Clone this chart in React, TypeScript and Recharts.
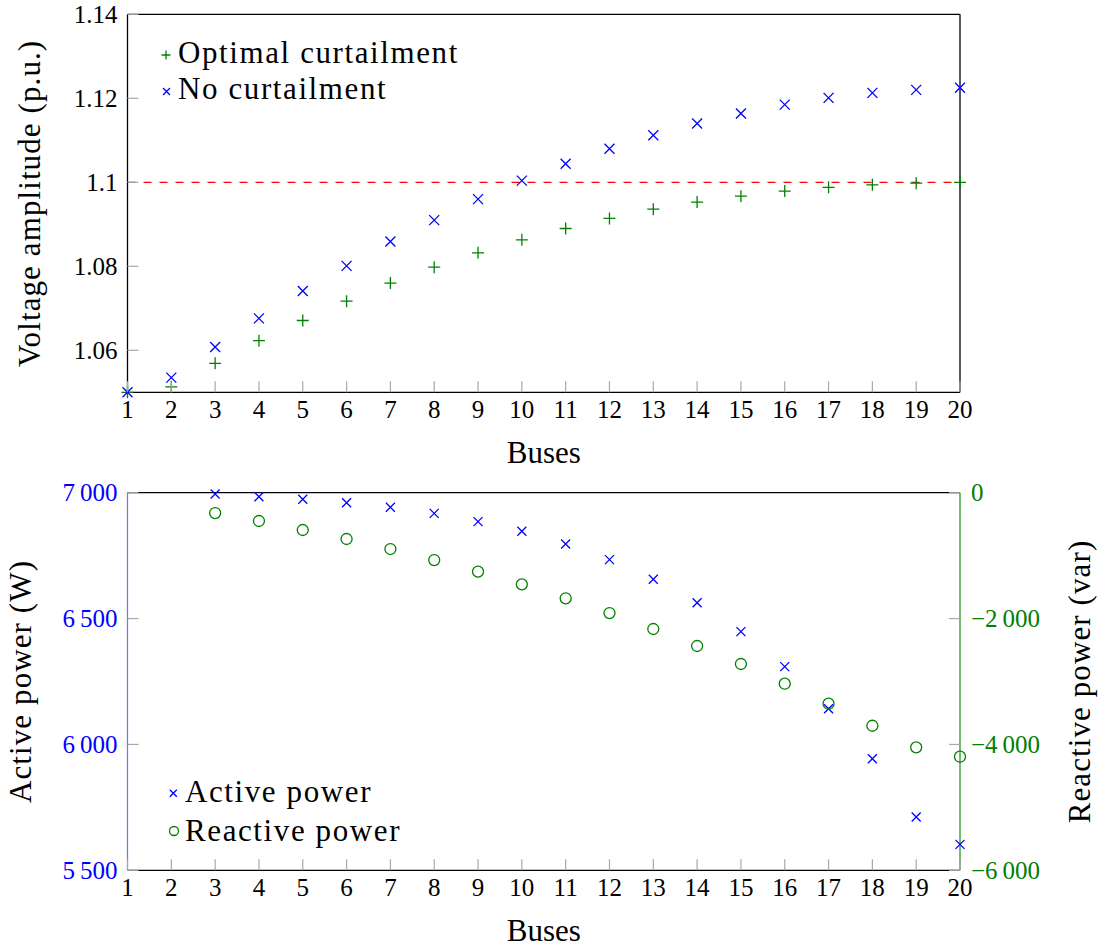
import { ScatterChart, Scatter, XAxis, YAxis, ReferenceLine, Legend } from 'recharts'

const FONT = '"Liberation Serif", "DejaVu Serif", "Noto Serif", "Times New Roman", Times, FreeSerif, Georgia, serif'
const TICK_FONT = 25
const LABEL_FONT = 31
const TICK_LEN = 11
const TICK_GRAY = '#a8a8a8'
const BLUE = '#0000ff'
const GREEN = '#008000'
const RED = '#ff0000'

// bus numbers along the feeder
const BUSES = [1, 2, 3, 4, 5, 6, 7, 8, 9, 10, 11, 12, 13, 14, 15, 16, 17, 18, 19, 20]

// voltage amplitude per bus (p.u.)
const VOLTAGE_OPTIMAL = [
  1.05, 1.0513, 1.0569, 1.0623, 1.0671, 1.0717, 1.076, 1.0798, 1.0832, 1.0863,
  1.089, 1.0914, 1.0936, 1.0953, 1.0967, 1.0979, 1.0988, 1.0994, 1.0998, 1.1,
]
const VOLTAGE_NO_CURTAILMENT = [
  1.05, 1.0535, 1.0608, 1.0676, 1.0741, 1.0801, 1.0859, 1.091, 1.096, 1.1004,
  1.1044, 1.108, 1.1112, 1.114, 1.1164, 1.1185, 1.1201, 1.1213, 1.122, 1.1225,
]
const VOLTAGE_LIMIT = 1.1
const VOLTAGE_TICKS = [1.06, 1.08, 1.1, 1.12, 1.14]

// injected powers per bus (no generation on buses 1 and 2)
const ACTIVE_POWER = [
  null, null, 6995, 6984, 6974, 6960, 6942, 6918, 6885, 6847,
  6796, 6734, 6656, 6563, 6448, 6309, 6142, 5943, 5712, 5603,
]
const REACTIVE_POWER = [
  null, null, -323, -450, -593, -736, -895, -1070, -1255, -1456,
  -1678, -1912, -2166, -2436, -2722, -3035, -3353, -3703, -4046, -4195,
]
const ACTIVE_TICKS = [5500, 6000, 6500, 7000]
const REACTIVE_TICKS = [-6000, -4000, -2000, 0]

const toPoints = (values: (number | null)[]) =>
  BUSES.map((bus, i) => ({ bus, value: values[i] })).filter((p) => p.value !== null)

const optimalData = toPoints(VOLTAGE_OPTIMAL)
const noCurtailmentData = toPoints(VOLTAGE_NO_CURTAILMENT)
const activeData = toPoints(ACTIVE_POWER)
const reactiveData = toPoints(REACTIVE_POWER)

const fmtVoltage = (v: number) => String(Number(v.toFixed(2)))
const fmtPower = (v: number) => {
  if (v === 0) return '0'
  const a = Math.abs(v)
  const s = a >= 1000 ? `${Math.floor(a / 1000)}\u2009${String(a % 1000).padStart(3, '0')}` : String(a)
  return (v < 0 ? '\u2212' : '') + s
}

// marks
const Plus = ({ cx, cy, r = 6, color }: any) => (
  <path d={`M${cx - r},${cy}H${cx + r}M${cx},${cy - r}V${cy + r}`} stroke={color} strokeWidth={1.3} fill="none" />
)
const Cross = ({ cx, cy, r = 5, color }: any) => (
  <path
    d={`M${cx - r},${cy - r}L${cx + r},${cy + r}M${cx - r},${cy + r}L${cx + r},${cy - r}`}
    stroke={color}
    strokeWidth={1.3}
    fill="none"
  />
)
const Ring = ({ cx, cy, r = 5.5, color }: any) => (
  <circle cx={cx} cy={cy} r={r} stroke={color} strokeWidth={1.3} fill="none" />
)

const tickText = { fontFamily: FONT, fontSize: TICK_FONT }
const labelText = { fontFamily: FONT, fontSize: LABEL_FONT }

// inward tick marks, pgfplots style
const bottomTick = (p: any) => (
  <g>
    <line x1={p.x} y1={p.y} x2={p.x} y2={p.y - TICK_LEN} stroke={TICK_GRAY} strokeWidth={1.2} />
    <text x={p.x} y={p.y + 26} textAnchor="middle" style={tickText} fill="#000">
      {p.payload.value}
    </text>
  </g>
)
const topTick = (p: any) => (
  <line x1={p.x} y1={p.y} x2={p.x} y2={p.y + TICK_LEN} stroke={TICK_GRAY} strokeWidth={1.2} />
)
const leftTick = (fmt: (v: number) => string, color: string) => (p: any) => (
  <g>
    <line x1={p.x} y1={p.y} x2={p.x + TICK_LEN} y2={p.y} stroke={TICK_GRAY} strokeWidth={1.2} />
    <text x={p.x - 10} y={p.y + 8.5} textAnchor="end" style={tickText} fill={color}>
      {fmt(p.payload.value)}
    </text>
  </g>
)
const rightTick = (fmt: ((v: number) => string) | null, color: string) => (p: any) => (
  <g>
    <line x1={p.x} y1={p.y} x2={p.x - TICK_LEN} y2={p.y} stroke={TICK_GRAY} strokeWidth={1.2} />
    {fmt && (
      <text x={p.x + 11} y={p.y + 8.5} textAnchor="start" style={tickText} fill={color}>
        {fmt(p.payload.value)}
      </text>
    )}
  </g>
)

const busesLabel = (p: any) => {
  const vb = p.viewBox
  return (
    <text x={vb.x + vb.width / 2} y={vb.y + 71} textAnchor="middle" style={labelText} fill="#000">
      Buses
    </text>
  )
}
const verticalLabel = (text: string, dx: number) => (p: any) => {
  const vb = p.viewBox
  const x = vb.x + dx
  const y = vb.y + vb.height / 2
  return (
    <text
      x={x}
      y={y}
      transform={`rotate(-90 ${x} ${y})`}
      textAnchor="middle"
      style={{ ...labelText, letterSpacing: 1.1 }}
      fill="#000"
    >
      {text}
    </text>
  )
}

const legendText = { ...labelText, letterSpacing: 1.6 }

const VoltageLegend = () => (
  <svg width={330} height={80}>
    <Plus cx={16} cy={25} r={4.5} color={GREEN} />
    <text x={28} y={33.3} style={legendText} fill="#000">Optimal curtailment</text>
    <Cross cx={16.5} cy={61.5} r={3.5} color={BLUE} />
    <text x={28} y={68.5} style={legendText} fill="#000">No curtailment</text>
  </svg>
)

const PowerLegend = () => (
  <svg width={300} height={80}>
    <Cross cx={23.3} cy={23.3} r={3.5} color={BLUE} />
    <text x={35} y={32.3} style={legendText} fill="#000">Active power</text>
    <Ring cx={24} cy={61} r={4.5} color={GREEN} />
    <text x={35} y={71} style={legendText} fill="#000">Reactive power</text>
  </svg>
)

const frame = { stroke: '#000', strokeWidth: 1.3 }

function VoltageChart() {
  return (
    <ScatterChart width={1105} height={470} margin={{ top: 0, right: 0, bottom: 0, left: 0 }}>
      <XAxis
        dataKey="bus"
        type="number"
        domain={[1, 20]}
        ticks={BUSES}
        interval={0}
        height={77.7}
        tickSize={0}
        tickMargin={0}
        tick={bottomTick}
        axisLine={frame}
        label={busesLabel}
      />
      <XAxis
        xAxisId="top"
        orientation="top"
        dataKey="bus"
        type="number"
        domain={[1, 20]}
        ticks={BUSES}
        interval={0}
        height={14.3}
        tickSize={0}
        tickMargin={0}
        tick={topTick}
        axisLine={frame}
      />
      <YAxis
        dataKey="value"
        type="number"
        domain={[1.05, 1.14]}
        ticks={VOLTAGE_TICKS}
        interval={0}
        width={127.5}
        tickSize={0}
        tickMargin={0}
        tick={leftTick(fmtVoltage, '#000')}
        axisLine={frame}
        label={verticalLabel('Voltage amplitude (p.u.)', 40)}
      />
      <YAxis
        yAxisId="right"
        orientation="right"
        type="number"
        domain={[1.05, 1.14]}
        ticks={VOLTAGE_TICKS}
        interval={0}
        width={145}
        tickSize={0}
        tickMargin={0}
        tick={rightTick(null, '#000')}
        axisLine={frame}
      />
      <ReferenceLine y={VOLTAGE_LIMIT} stroke={RED} strokeWidth={1.3} strokeDasharray="8 8" />
      <Scatter
        name="Optimal curtailment"
        data={optimalData}
        isAnimationActive={false}
        shape={(p: any) => <Plus cx={p.cx} cy={p.cy} color={GREEN} />}
      />
      <Scatter
        name="No curtailment"
        data={noCurtailmentData}
        isAnimationActive={false}
        shape={(p: any) => <Cross cx={p.cx} cy={p.cy} color={BLUE} />}
      />
      <Legend
        layout="vertical"
        align="center"
        verticalAlign="middle"
        wrapperStyle={{ left: 150, top: 30, width: 330, height: 80 }}
        content={() => <VoltageLegend />}
      />
    </ScatterChart>
  )
}

function PowerChart() {
  return (
    <ScatterChart width={1105} height={479} margin={{ top: 0, right: 0, bottom: 0, left: 0 }}>
      <XAxis
        dataKey="bus"
        type="number"
        domain={[1, 20]}
        ticks={BUSES}
        interval={0}
        height={78.7}
        tickSize={0}
        tickMargin={0}
        tick={bottomTick}
        axisLine={frame}
        label={busesLabel}
      />
      <XAxis
        xAxisId="top"
        orientation="top"
        dataKey="bus"
        type="number"
        domain={[1, 20]}
        ticks={BUSES}
        interval={0}
        height={22.7}
        tickSize={0}
        tickMargin={0}
        tick={topTick}
        axisLine={frame}
      />
      <YAxis
        yAxisId="active"
        dataKey="value"
        type="number"
        domain={[5500, 7000]}
        ticks={ACTIVE_TICKS}
        interval={0}
        width={127.5}
        tickSize={0}
        tickMargin={0}
        tick={leftTick(fmtPower, BLUE)}
        axisLine={{ stroke: '#7070ff', strokeWidth: 1.2 }}
        label={verticalLabel('Active power (W)', 31)}
      />
      <YAxis
        yAxisId="reactive"
        orientation="right"
        dataKey="value"
        type="number"
        domain={[-6000, 0]}
        ticks={REACTIVE_TICKS}
        interval={0}
        width={145}
        tickSize={0}
        tickMargin={0}
        tick={rightTick(fmtPower, GREEN)}
        axisLine={{ stroke: GREEN, strokeWidth: 1.1 }}
        label={verticalLabel('Reactive power (var)', 130)}
      />
      <Scatter
        name="Active power"
        yAxisId="active"
        data={activeData}
        isAnimationActive={false}
        shape={(p: any) => <Cross cx={p.cx} cy={p.cy} r={4.5} color={BLUE} />}
      />
      <Scatter
        name="Reactive power"
        yAxisId="reactive"
        data={reactiveData}
        isAnimationActive={false}
        shape={(p: any) => <Ring cx={p.cx} cy={p.cy} color={GREEN} />}
      />
      <Legend
        layout="vertical"
        align="center"
        verticalAlign="middle"
        wrapperStyle={{ left: 150, top: 300, width: 300, height: 80 }}
        content={() => <PowerLegend />}
      />
    </ScatterChart>
  )
}

export default function App() {
  return (
    <div style={{ position: 'absolute', left: 0, top: 0, width: 1105, height: 949, background: '#fff' }}>
      <div style={{ position: 'absolute', left: 0, top: 0 }}>
        <VoltageChart />
      </div>
      <div style={{ position: 'absolute', left: 0, top: 470 }}>
        <PowerChart />
      </div>
    </div>
  )
}
